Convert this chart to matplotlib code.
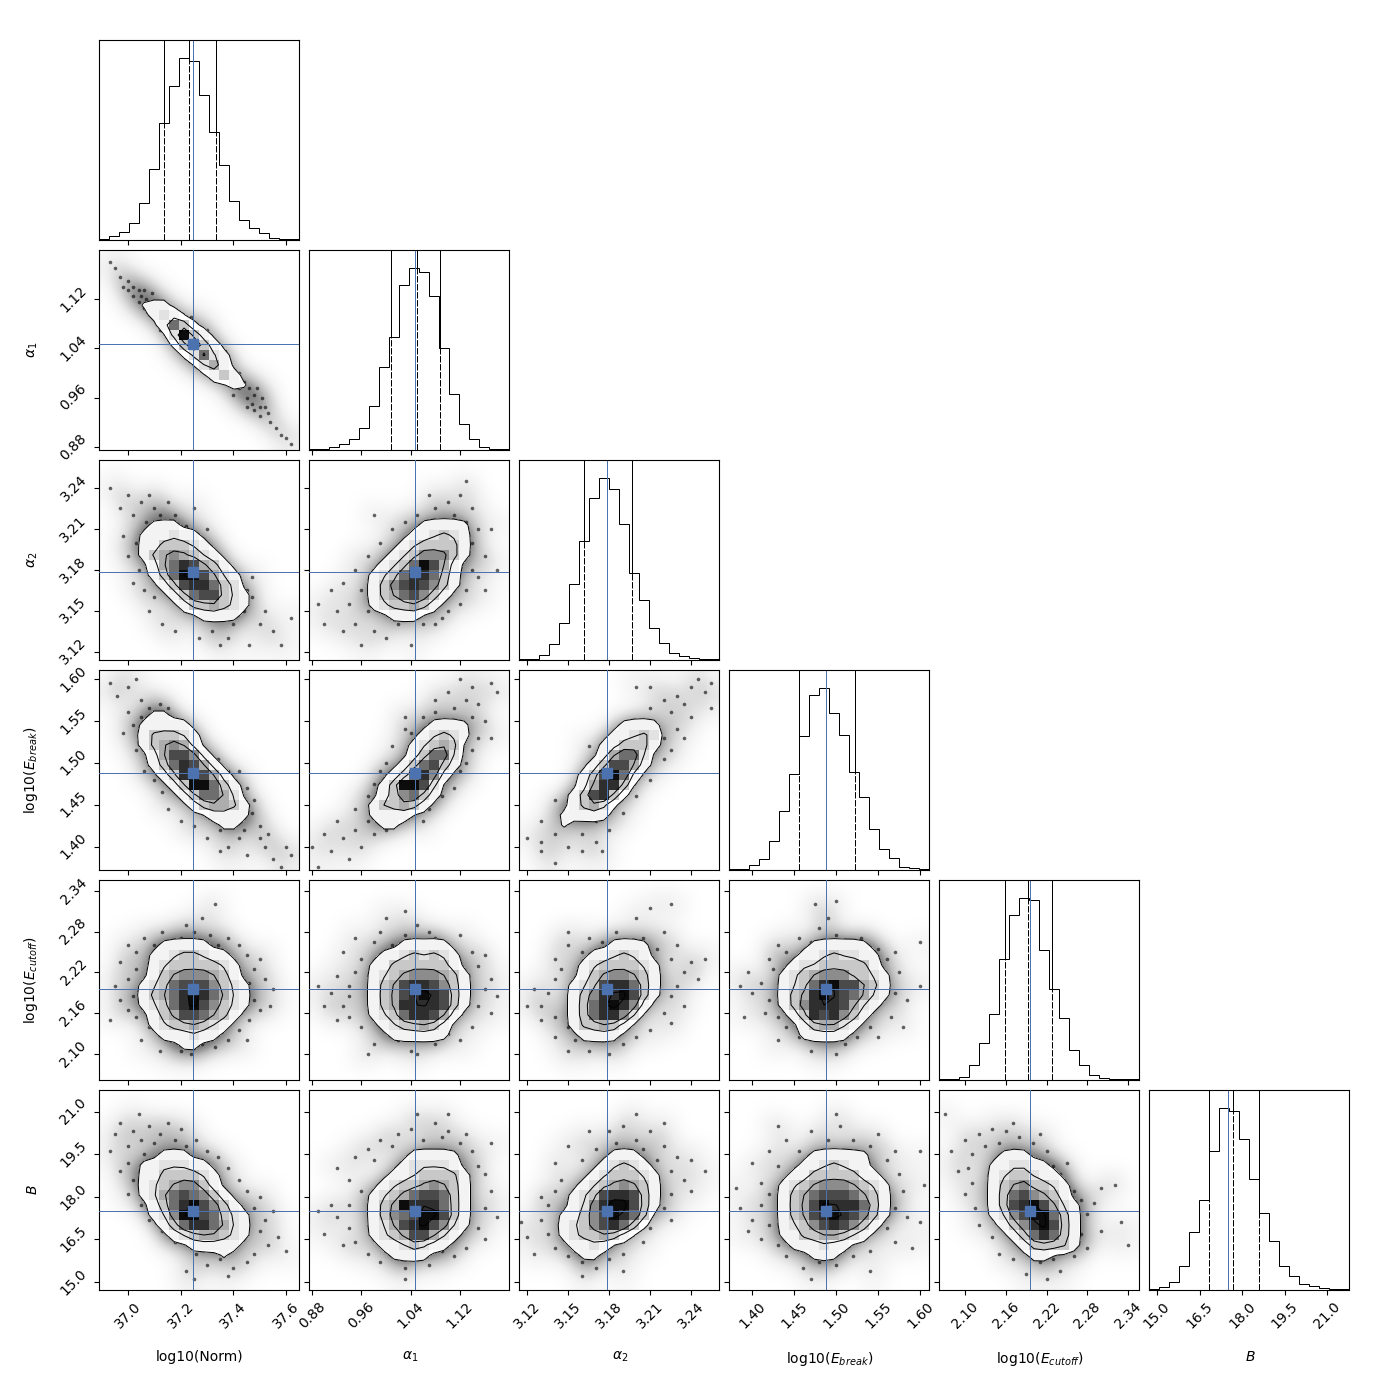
import numpy as np
import matplotlib
matplotlib.use("Agg")
import matplotlib.pyplot as plt
from matplotlib.colors import ListedColormap

names = ["log10(Norm)", r"$\alpha_1$", r"$\alpha_2$", r"log10($E_{break}$)", r"log10($E_{cutoff}$)", r"$B$"]
limits = [(36.89, 37.649), (0.875, 1.1995), (3.1139, 3.2605), (1.372, 1.6107), (2.0617, 2.356), (14.72, 21.76)]
ticks = [[37.0, 37.2, 37.4, 37.6], [0.88, 0.96, 1.04, 1.12], [3.12, 3.15, 3.18, 3.21, 3.24],
         [1.40, 1.45, 1.50, 1.55, 1.60], [2.10, 2.16, 2.22, 2.28, 2.34], [15.0, 16.5, 18.0, 19.5, 21.0]]
ticklabels = [["37.0", "37.2", "37.4", "37.6"], ["0.88", "0.96", "1.04", "1.12"], ["3.12", "3.15", "3.18", "3.21", "3.24"],
              ["1.40", "1.45", "1.50", "1.55", "1.60"], ["2.10", "2.16", "2.22", "2.28", "2.34"], ["15.0", "16.5", "18.0", "19.5", "21.0"]]
truths = [37.247, 1.047, 3.1785, 1.488, 2.1956, 17.5]
quantiles = [[37.137, 37.2316, 37.334], [1.008, 1.0502, 1.0875], [3.1616, 3.1784, 3.1967],
             [1.4555, 1.4878, 1.5224], [2.1588, 2.1927, 2.228], [16.83, 17.677, 18.59]]

# diagonal histograms
hist0 = [3, 12, 24, 51, 111, 213, 351, 462, 546, 537, 435, 324, 225, 117, 60, 36, 21, 5, 3, 2]
hist1 = [2, 3, 9, 17, 32, 65, 131, 248, 338, 494, 545, 533, 463, 305, 167, 77, 33, 9, 3, 2]
hist2 = [2, 2, 14, 47, 110, 227, 356, 485, 545, 512, 407, 260, 179, 95, 50, 20, 11, 5, 2, 2]
hist3 = [2, 4, 14, 32, 86, 176, 287, 401, 524, 545, 470, 404, 293, 218, 122, 62, 35, 8, 5, 2]
hist4 = [3, 3, 8, 44, 110, 197, 362, 494, 545, 539, 389, 272, 185, 89, 44, 14, 5, 2, 2, 2]
hist5 = [2, 8, 23, 71, 173, 270, 416, 545, 537, 452, 332, 230, 146, 71, 41, 17, 11, 5, 2, 2]
hists = [hist0, hist1, hist2, hist3, hist4, hist5]

# 2d histograms, digits 0-9 per bin, (first row from the top, rows)
H10 = (5, ["0000111", "00000121", "000000163", "00000002931", "000000003831", "00000000026210", "0000000000241",
           "00000000000131", "000000000000011"])
H20 = (6, ["00000111", "0000111211", "00001133321", "000013454321", "0000014687431", "00000136997421",
           "00000013788632", "000000013677321", "000000001334321", "00000000001111"])
H21 = (6, ["0000000000011111", "0000000000112321", "0000000001233331", "0000000012355531",
           "000000012369741", "000000123688631", "000000135787531", "00000013467531", "0000001233431", "00000000111"])
H30 = (4, ["0000011", "000011111", "0000133321", "0000134541", "00000147751", "000001368741", "0000001389741", "00000001399631",
           "00000000136642", "000000000134431", "000000000001111", "00000000000011"])
H31 = (5, ["0000000000001111", "0000000000012321", "000000000012343", "000000000013662", "000000000136731", "00000000126851",
           "0000000139972", "0000000135631", "000000133431", "0000001111", "000000011"])
H32 = (5, ["00000000001111", "00000000011232", "00000000113331", "0000000014662", "0000000137741", "000000137961", "00000014883",
           "0000013783", "000001342", "000011111", "00001"])
H40 = (6, ["00000011111", "0000011233211", "00000123333321", "00000134555431", "000012367775321", "000013468986421", "000012368975321",
           "00000134776431", "0000012334321", "000000111211", "0000000011"])
H41 = (6, ["00000000011111", "000000011232321", "000000113333331", "0000001234555431", "0000001347887531", "0000001347898731",
           "0000001348888731", "000000123688741", "00000001233431", "00000000111111"])
H42 = (6, ["0000000001111", "0000000112321", "00000012333321", "00000013455431", "00000123788631", "00000135889731", "0000013689851",
           "000001368852", "00000133431", "0000001111"])
H43 = (6, ["00000000111111", "000000011232211", "000000122333331", "0000012345553321", "0000012368977431", "0000013489876421",
           "000001358887421", "00000013878531", "0000000134421", "000000011111"])
H50 = (6, ["000000111", "00001122211", "000011333321", "000012345531", "0000124676531", "00000136897531", "000001259976321",
           "000000136886421", "000000012344321", "00000000011111", "0000000000001"])
H51 = (6, ["000000000011111", "000000000122221", "0000000011233331", "0000000123345431", "0000001234677631", "0000001349888631",
           "0000001356799731", "0000001247897521", "000000123477421", "00000001123211", "000000001111"])
H52 = (6, ["000000000111", "0000000012321", "00000001233321", "00000012345431", "00000123788731", "00000125899731", "0000113579863",
           "000012357863", "00001233431", "000001121", "00000011"])
H53 = (6, ["00000000111111", "00000001123211", "000000113333311", "0000012345554321", "0000013467776431", "0000013479888631",
           "0000013478987531", "000001235787531", "00000113344321", "000000111211", "00000000111"])
H54 = (6, ["000000111", "00000112211", "000001233211", "0000013453321", "0000013675431", "00000137897421", "00000125799631",
           "00000013589731", "00000001368631", "00000000133331", "00000000011"])

# scatter points outside the contours
P10 = [(36.93,1.18),(36.95,1.17),(36.97,1.155),(36.98,1.14),(37.0,1.15),(37.0,1.135),(37.02,1.14),(37.02,1.125),(37.04,1.135),(37.04,1.115),(37.05,1.125),(37.06,1.135),(37.07,1.12),(37.08,1.105),(37.09,1.13),(37.06,1.105),(37.1,1.09),(37.12,1.07),(37.16,1.05),(37.2,1.03),(37.25,1.015),(37.31,0.995),(37.24,1.09),(37.3,1.07),(37.37,1.035),(37.42,1.0),(37.4,0.965),(37.42,0.975),(37.44,0.985),(37.45,0.96),(37.46,0.975),(37.47,0.95),(37.48,0.965),(37.49,0.975),(37.5,0.945),(37.51,0.96),(37.5,0.93),(37.52,0.945),(37.53,0.935),(37.54,0.92),(37.45,0.945),(37.56,0.91),(37.58,0.9),(37.6,0.895),(37.62,0.885),(37.48,0.94)]
P20 = [(36.93,3.24),(36.97,3.225),(37.0,3.235),(37.02,3.22),(37.05,3.23),(37.07,3.215),(37.08,3.235),(37.1,3.225),(37.12,3.22),(37.15,3.23),(37.18,3.22),(37.22,3.212),(37.26,3.205),(37.3,3.21),(37.32,3.195),(37.38,3.185),(37.42,3.175),(36.98,3.205),(37.0,3.19),(37.03,3.2),(37.04,3.18),(37.06,3.165),(37.02,3.17),(37.08,3.15),(37.1,3.16),(37.13,3.14),(37.18,3.135),(37.22,3.15),(37.27,3.13),(37.32,3.135),(37.35,3.125),(37.4,3.14),(37.44,3.15),(37.47,3.16),(37.5,3.14),(37.52,3.15),(37.55,3.135),(37.58,3.125),(37.62,3.145),(37.46,3.125),(37.42,3.17),(37.45,3.165),(37.47,3.175),(37.38,3.13),(37.25,3.225)]
P21 = [(0.89,3.155),(0.9,3.14),(0.91,3.165),(0.92,3.15),(0.93,3.135),(0.93,3.17),(0.94,3.155),(0.95,3.18),(0.95,3.14),(0.96,3.165),(0.96,3.125),(0.97,3.15),(0.97,3.19),(0.98,3.135),(0.99,3.2),(1.0,3.13),(1.01,3.21),(1.02,3.14),(1.03,3.215),(1.04,3.125),(1.05,3.22),(1.06,3.14),(1.07,3.235),(1.08,3.225),(1.09,3.215),(1.1,3.23),(1.11,3.22),(1.12,3.235),(1.13,3.215),(1.14,3.225),(1.14,3.2),(1.15,3.21),(1.16,3.19),(1.15,3.175),(1.16,3.165),(1.14,3.18),(1.13,3.165),(1.12,3.155),(1.1,3.15),(1.08,3.14),(1.17,3.21),(1.18,3.18),(0.98,3.22),(1.13,3.245),(1.09,3.145)]
P30 = [(36.93,1.595),(36.96,1.58),(37.0,1.59),(37.03,1.6),(37.05,1.575),(37.0,1.56),(37.02,1.545),(36.98,1.535),(37.05,1.555),(37.08,1.565),(37.12,1.57),(37.15,1.565),(37.18,1.55),(37.22,1.54),(37.25,1.525),(37.3,1.51),(37.34,1.505),(37.38,1.49),(37.42,1.49),(37.45,1.47),(37.03,1.515),(37.06,1.49),(37.1,1.48),(37.13,1.465),(37.15,1.445),(37.2,1.43),(37.25,1.425),(37.3,1.41),(37.35,1.42),(37.38,1.4),(37.42,1.41),(37.44,1.42),(37.47,1.44),(37.5,1.425),(37.52,1.4),(37.53,1.415),(37.45,1.39),(37.55,1.385),(37.58,1.375),(37.62,1.39),(37.48,1.455),(37.5,1.41),(37.4,1.425),(37.35,1.395),(37.6,1.4)]
P31 = [(0.88,1.4),(0.89,1.375),(0.9,1.415),(0.91,1.395),(0.92,1.43),(0.93,1.41),(0.94,1.385),(0.95,1.445),(0.95,1.42),(0.96,1.4),(0.97,1.46),(0.97,1.43),(0.98,1.475),(0.98,1.415),(0.99,1.49),(1.0,1.5),(1.0,1.42),(1.01,1.52),(1.02,1.43),(1.03,1.54),(1.04,1.535),(1.04,1.44),(1.06,1.555),(1.08,1.56),(1.08,1.575),(1.1,1.585),(1.11,1.565),(1.12,1.6),(1.13,1.575),(1.14,1.59),(1.14,1.555),(1.15,1.57),(1.16,1.55),(1.17,1.595),(1.17,1.53),(1.15,1.53),(1.14,1.515),(1.13,1.5),(1.12,1.49),(1.11,1.47),(1.09,1.46),(1.18,1.585),(1.06,1.43),(1.07,1.445),(1.03,1.555)]
P32 = [(3.12,1.41),(3.13,1.395),(3.13,1.43),(3.14,1.38),(3.14,1.415),(3.15,1.4),(3.15,1.445),(3.15,1.43),(3.16,1.415),(3.16,1.47),(3.17,1.405),(3.17,1.5),(3.17,1.43),(3.18,1.42),(3.18,1.525),(3.19,1.44),(3.19,1.54),(3.2,1.55),(3.2,1.46),(3.21,1.565),(3.21,1.48),(3.22,1.575),(3.22,1.505),(3.225,1.56),(3.23,1.58),(3.23,1.54),(3.235,1.57),(3.24,1.59),(3.24,1.555),(3.245,1.6),(3.25,1.585),(3.255,1.595),(3.22,1.53),(3.225,1.515),(3.21,1.59),(3.235,1.53),(3.19,1.465),(3.16,1.395),(3.14,1.455),(3.13,1.405),(3.175,1.395),(3.165,1.52),(3.2,1.59),(3.255,1.565)]
P40 = [(37.0,2.26),(37.03,2.25),(37.06,2.27),(37.1,2.26),(37.13,2.28),(37.16,2.265),(37.2,2.27),(37.22,2.29),(37.25,2.28),(37.28,2.265),(37.31,2.275),(37.34,2.26),(37.38,2.27),(37.42,2.26),(37.45,2.245),(37.48,2.225),(37.5,2.24),(37.46,2.205),(37.52,2.21),(37.55,2.195),(37.48,2.18),(37.5,2.165),(37.54,2.17),(37.46,2.15),(37.42,2.135),(37.45,2.12),(37.38,2.12),(37.33,2.11),(37.28,2.115),(37.24,2.1),(37.2,2.105),(37.16,2.12),(37.12,2.105),(37.08,2.14),(37.05,2.12),(37.03,2.155),(37.0,2.165),(36.97,2.18),(37.02,2.185),(36.95,2.2),(37.0,2.21),(37.03,2.225),(36.97,2.235),(36.93,2.15),(37.33,2.32),(37.28,2.3)]
P41 = [(0.93,2.25),(0.95,2.27),(0.96,2.24),(0.98,2.265),(0.99,2.28),(1.01,2.26),(1.03,2.275),(1.05,2.29),(1.06,2.265),(1.08,2.27),(1.1,2.26),(1.12,2.275),(1.14,2.25),(1.15,2.23),(1.16,2.245),(1.17,2.21),(1.16,2.195),(1.18,2.185),(1.15,2.17),(1.17,2.16),(1.14,2.14),(1.12,2.12),(1.1,2.13),(1.08,2.115),(1.06,2.125),(1.04,2.105),(1.02,2.12),(1.0,2.135),(0.98,2.115),(0.96,2.14),(0.94,2.155),(0.92,2.15),(0.93,2.17),(0.91,2.19),(0.94,2.2),(0.92,2.215),(0.95,2.22),(0.94,2.185),(0.89,2.2),(0.9,2.17),(1.03,2.31),(1.0,2.3),(1.07,2.28),(0.97,2.1),(1.05,2.1)]
P42 = [(3.14,2.24),(3.15,2.26),(3.16,2.25),(3.165,2.27),(3.175,2.265),(3.185,2.28),(3.195,2.265),(3.205,2.27),(3.215,2.255),(3.22,2.28),(3.225,2.24),(3.23,2.26),(3.235,2.22),(3.24,2.235),(3.23,2.2),(3.245,2.21),(3.225,2.185),(3.235,2.17),(3.22,2.16),(3.225,2.145),(3.21,2.135),(3.2,2.125),(3.19,2.115),(3.175,2.12),(3.165,2.105),(3.155,2.12),(3.15,2.14),(3.14,2.125),(3.14,2.155),(3.13,2.17),(3.135,2.19),(3.125,2.195),(3.14,2.21),(3.145,2.225),(3.13,2.15),(3.2,2.3),(3.21,2.315),(3.225,2.32),(3.15,2.28),(3.12,2.17),(3.15,2.105),(3.18,2.1),(3.25,2.24)]
P43 = [(1.42,2.24),(1.43,2.26),(1.44,2.25),(1.455,2.27),(1.47,2.265),(1.48,2.285),(1.49,2.3),(1.5,2.275),(1.515,2.26),(1.53,2.27),(1.55,2.255),(1.56,2.24),(1.57,2.25),(1.575,2.22),(1.555,2.2),(1.57,2.19),(1.585,2.18),(1.55,2.175),(1.565,2.155),(1.54,2.14),(1.55,2.125),(1.525,2.125),(1.51,2.115),(1.49,2.12),(1.47,2.105),(1.455,2.125),(1.44,2.14),(1.43,2.155),(1.415,2.16),(1.42,2.18),(1.4,2.19),(1.41,2.205),(1.395,2.22),(1.425,2.225),(1.385,2.2),(1.39,2.155),(1.5,2.325),(1.475,2.32),(1.6,2.265),(1.58,2.14),(1.43,2.12),(1.5,2.1),(1.6,2.2)]
P50 = [(36.95,20.2),(36.97,20.6),(37.0,19.8),(37.02,20.3),(37.04,20.9),(37.05,20.0),(37.08,20.5),(37.1,19.9),(37.12,20.2),(37.15,20.6),(37.18,20.0),(37.2,20.4),(37.22,19.8),(37.26,20.0),(37.3,19.6),(37.34,19.4),(37.38,19.0),(37.42,18.6),(37.45,18.2),(37.48,17.6),(37.5,18.0),(37.52,17.2),(37.55,17.5),(37.5,16.8),(37.53,16.3),(37.48,16.0),(37.57,16.6),(37.45,15.7),(37.4,15.5),(37.35,15.8),(37.3,15.6),(37.26,16.0),(37.22,15.4),(37.18,16.4),(37.13,16.8),(37.08,17.2),(37.05,17.7),(37.0,18.1),(37.02,18.6),(36.97,18.9),(37.0,19.2),(37.06,19.5),(36.93,19.6),(37.6,16.1),(37.38,15.2),(37.25,15.1)]
P51 = [(0.92,19.0),(0.94,18.6),(0.95,19.4),(0.96,18.2),(0.97,19.7),(0.98,19.3),(0.99,20.0),(1.01,19.8),(1.02,20.2),(1.04,20.4),(1.06,20.0),(1.08,20.6),(1.09,20.1),(1.1,20.3),(1.12,19.9),(1.13,20.2),(1.14,19.6),(1.15,19.1),(1.16,18.8),(1.17,18.2),(1.16,17.6),(1.18,17.3),(1.15,16.9),(1.16,16.5),(1.13,16.2),(1.11,15.9),(1.09,16.1),(1.07,15.6),(1.05,15.9),(1.03,15.5),(1.01,15.9),(0.99,15.7),(0.97,16.0),(0.95,16.4),(0.93,16.3),(0.94,16.9),(0.92,17.3),(0.94,17.7),(0.91,17.7),(0.89,17.5),(0.9,16.7),(1.05,20.9),(1.1,20.9),(1.17,19.9),(1.03,15.1)]
P52 = [(3.14,19.2),(3.15,19.8),(3.16,19.3),(3.165,20.3),(3.17,19.7),(3.18,20.3),(3.185,19.9),(3.19,20.5),(3.2,20.0),(3.205,19.7),(3.21,20.3),(3.215,19.3),(3.22,19.8),(3.225,18.9),(3.23,19.4),(3.235,18.6),(3.225,18.1),(3.24,18.2),(3.22,17.6),(3.225,17.2),(3.21,16.9),(3.205,16.4),(3.19,16.0),(3.18,15.8),(3.17,15.5),(3.16,15.7),(3.15,15.9),(3.14,16.2),(3.135,16.7),(3.13,17.2),(3.135,17.7),(3.12,16.6),(3.14,18.2),(3.145,18.6),(3.13,18.0),(3.115,17.1),(3.25,18.9),(3.24,19.3),(3.2,20.9),(3.22,20.6),(3.16,15.2),(3.19,15.4),(3.125,16.0)]
P53 = [(1.4,19.2),(1.41,18.5),(1.42,19.6),(1.43,19.1),(1.44,20.0),(1.455,19.6),(1.47,20.3),(1.49,20.0),(1.505,20.5),(1.52,20.0),(1.54,19.8),(1.55,20.2),(1.56,19.3),(1.57,19.6),(1.575,18.8),(1.58,18.2),(1.57,17.6),(1.585,17.3),(1.56,16.9),(1.57,16.4),(1.54,16.1),(1.52,15.9),(1.5,15.6),(1.48,15.7),(1.46,15.5),(1.44,15.9),(1.43,16.3),(1.41,16.5),(1.42,17.0),(1.4,17.2),(1.41,17.7),(1.385,17.6),(1.42,18.1),(1.395,16.8),(1.5,20.9),(1.6,19.6),(1.605,18.4),(1.59,16.2),(1.47,15.1),(1.38,18.3),(1.54,15.4),(1.6,17.1),(1.43,20.5)]
P54 = [(2.1,20.0),(2.11,19.5),(2.12,20.2),(2.13,19.8),(2.14,20.4),(2.15,19.9),(2.16,20.3),(2.17,20.6),(2.18,20.1),(2.2,19.9),(2.21,20.2),(2.22,19.6),(2.23,19.1),(2.24,18.8),(2.25,19.2),(2.26,18.2),(2.27,17.9),(2.28,17.4),(2.29,17.8),(2.26,17.0),(2.27,16.7),(2.28,16.2),(2.3,16.8),(2.26,15.9),(2.24,15.4),(2.23,15.8),(2.21,15.7),(2.19,15.3),(2.17,15.8),(2.15,16.0),(2.14,16.6),(2.12,17.0),(2.115,17.6),(2.1,18.1),(2.11,18.5),(2.09,18.9),(2.105,19.0),(2.08,19.6),(2.3,18.3),(2.33,17.1),(2.32,18.4),(2.34,16.3),(2.22,15.1),(2.07,20.9)]

panels = {(1, 0): (H10, P10), (2, 0): (H20, P20), (2, 1): (H21, P21), (3, 0): (H30, P30), (3, 1): (H31, P31),
          (3, 2): (H32, P32), (4, 0): (H40, P40), (4, 1): (H41, P41), (4, 2): (H42, P42), (4, 3): (H43, P43),
          (5, 0): (H50, P50), (5, 1): (H51, P51), (5, 2): (H52, P52), (5, 3): (H53, P53), (5, 4): (H54, P54)}

BLUE = "#4c72b0"
LW = 0.72
grays = ["#ffffff", "#f3f3f3", "#e2e2e2", "#c8c8c8", "#adadad", "#8c8c8c", "#6e6e6e", "#4a4a4a", "#2e2e2e", "#0c0c0c"]


def to_grid(entry):
    first, rows = entry
    g = np.zeros((20, 20))
    for i, r in enumerate(rows):
        g[first + i] = [int(c) for c in r.ljust(20, "0")]
    return g[::-1]


def blur(g, kernel, times=1):
    out = g.astype(float)
    for _ in range(times):
        out = np.apply_along_axis(lambda v: np.convolve(v, kernel, mode="same"), 0, out)
        out = np.apply_along_axis(lambda v: np.convolve(v, kernel, mode="same"), 1, out)
    return out


W = 1390.0
fig = plt.figure(figsize=(13.9, 13.9), dpi=100)
n = 6
for row in range(n):
    for col in range(row + 1):
        ax = fig.add_axes([(99.0 + 210 * col) / W, 1 - (240.0 + 210 * row) / W, 200 / W, 200 / W])
        xlim = limits[col]
        ax.set_xlim(xlim)
        ax.set_xticks(ticks[col])
        if row == n - 1:
            ax.set_xticklabels(ticklabels[col], rotation=45)
            ax.set_xlabel(names[col], fontsize=10)
            ax.xaxis.set_label_coords(0.505, -0.3)
        else:
            ax.set_xticklabels([])

        if row == col:
            h = np.array(hists[col], dtype=float)
            edges = np.linspace(xlim[0], xlim[1], 21)
            ax.stairs(h, edges, color="k", lw=LW)
            top = h.max() * 1.1
            ax.set_ylim(0, top)
            ax.set_yticks([])
            for q in quantiles[col]:
                frac = h[np.searchsorted(edges, q) - 1] / top
                ax.axvline(q, ymax=frac, color="k", ls=(0, (6.4, 1.6)), lw=LW)
                ax.axvline(q, ymin=frac, color="k", lw=LW)
            ax.axvline(truths[col], color=BLUE, lw=LW)
            continue

        ylim = limits[row]
        ax.set_ylim(ylim)
        ax.set_yticks(ticks[row])
        if col == 0:
            ax.set_yticklabels(ticklabels[row], rotation=45, va="center")
            ax.set_ylabel(names[row], fontsize=10)
            ax.yaxis.set_label_coords(-0.295, 0.5)
        else:
            ax.set_yticklabels([])

        entry, pts = panels[(row, col)]
        H = to_grid(entry)
        xe = np.linspace(xlim[0], xlim[1], 21)
        ye = np.linspace(ylim[0], ylim[1], 21)
        xc = 0.5 * (xe[1:] + xe[:-1])
        yc = 0.5 * (ye[1:] + ye[:-1])
        px = [p[0] for p in pts]
        py = [p[1] for p in pts]

        counts = np.histogram2d(py, px, bins=[ye, xe])[0]
        shade = blur(np.clip((H > 0) + counts * 0.7, 0, 1), [0.25, 0.5, 0.25], 2)
        ax.imshow(np.clip(shade * 0.95, 0, 1), extent=[xe[0], xe[-1], ye[0], ye[-1]], origin="lower", aspect="auto",
                  cmap="Greys", vmin=0, vmax=1, interpolation="bicubic", zorder=1)
        ax.plot(px, py, "o", color="k", ms=2.6, mew=0, alpha=0.6, zorder=2)

        S = blur(H, [0.15, 0.7, 0.15])
        fill = ax.contourf(xc, yc, S, levels=[0.5, 100], colors="white", zorder=3)
        mesh = ax.pcolormesh(xe, ye, np.ma.masked_equal(H, 0), cmap=ListedColormap(grays), vmin=-0.5, vmax=9.5, zorder=4,
                             antialiased=True)
        mesh.set_clip_path(fill.get_paths()[0], ax.transData)
        ax.contour(xc, yc, S, levels=[0.5, 2.2, 4.0, 8.0], colors="k", linewidths=LW, zorder=5)

        ax.axvline(truths[col], color=BLUE, lw=LW, zorder=6)
        ax.axhline(truths[row], color=BLUE, lw=LW, zorder=6)
        ax.plot(truths[col], truths[row], "s", color=BLUE, ms=7, zorder=7)
        ax.set_xlim(xlim)
        ax.set_ylim(ylim)

fig.savefig("out.png", dpi=100)
